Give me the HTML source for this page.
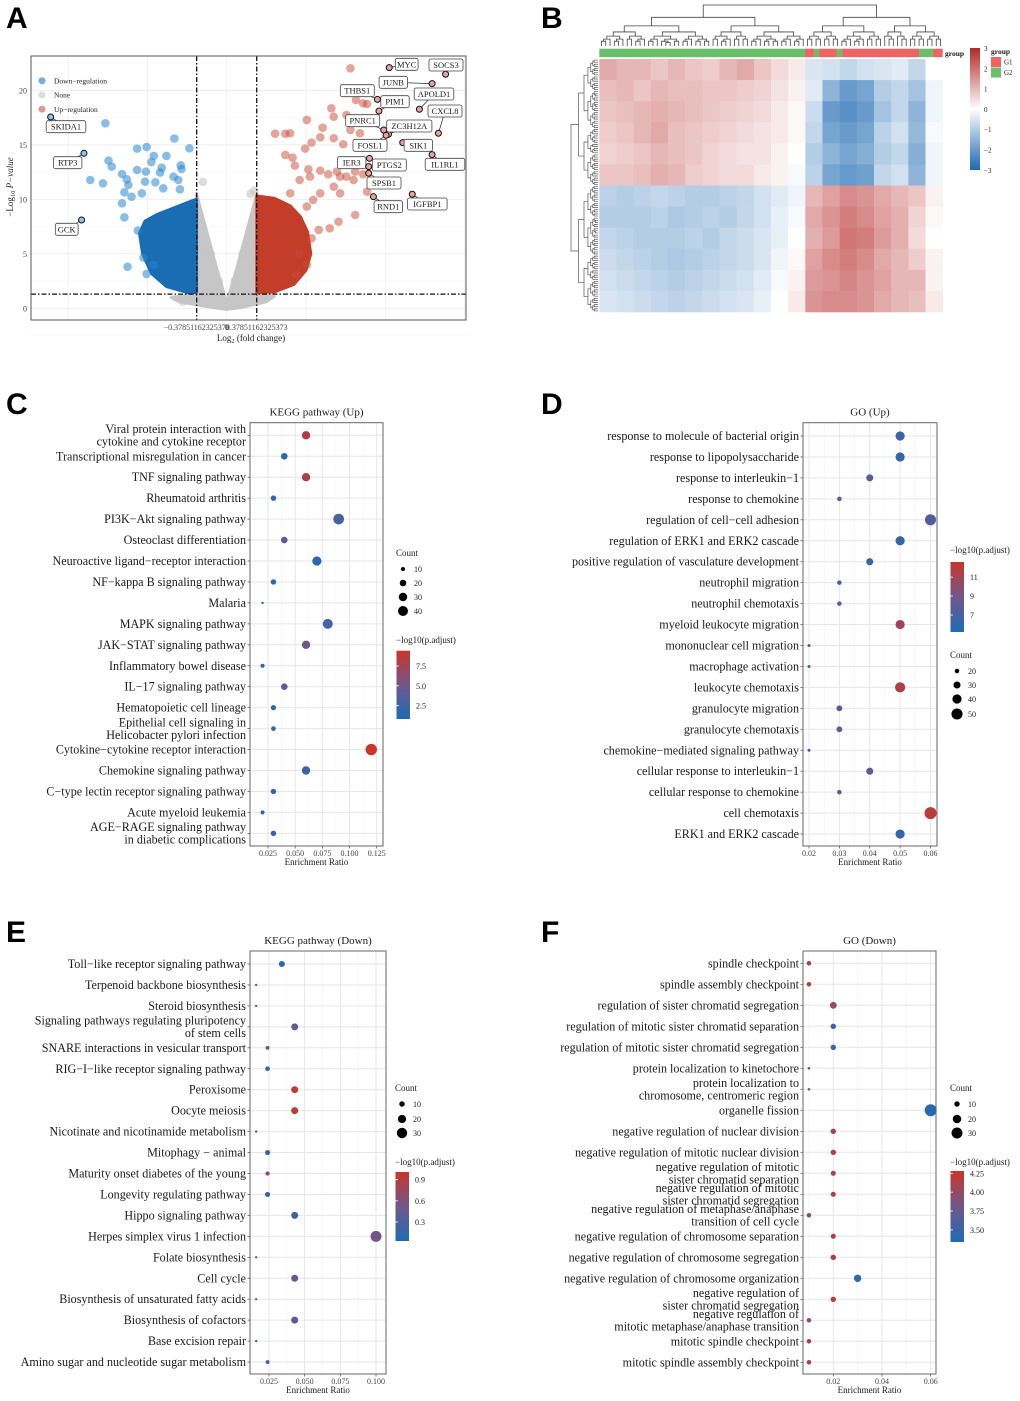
<!DOCTYPE html>
<html><head><meta charset="utf-8"><style>
html,body{margin:0;padding:0;background:#fff;}
svg{display:block;font-family:"Liberation Serif",serif;}
.pl{font-family:"Liberation Sans",sans-serif;font-weight:bold;font-size:30px;}
</style></head><body>
<svg id="root" xmlns="http://www.w3.org/2000/svg" width="1020" height="1401" viewBox="0 0 1020 1401">
<text class="pl" x="6" y="28">A</text>
<text class="pl" x="541" y="28">B</text>
<text class="pl" x="6" y="414">C</text>
<text class="pl" x="541" y="414">D</text>
<text class="pl" x="6" y="942">E</text>
<text class="pl" x="541" y="942">F</text>
</svg>
<script>
// ---------- Volcano data (log2FC, -log10 p) ----------
const downFC=[-1.53,-1.49,-1.45,-1.72,-1.56,-1.32,-1.26,-1.24,-1.29,-1.20,-1.32,-1.29,-1.13,-1.01,-0.66,-0.47,-0.76,-0.92,-0.95,-0.82,-0.58,-0.57,-0.67,-0.84,-1.02,-1.13,-1.03,-0.90,-0.80,-0.61,-0.59,-1.07,-1.25,-1.01,-0.92,-1.05,-1.12];
const downP=[16.97,13.55,13.0,11.77,11.47,12.32,11.83,11.31,10.64,10.24,9.63,8.35,14.65,14.80,15.57,14.68,13.98,13.98,13.42,12.9,13.12,12.78,12.08,12.45,12.54,12.69,11.62,11.56,11.01,11.77,10.92,10.55,3.82,3.15,3.98,4.65,7.13];
const upFC=[1.56,1.63,1.72,1.77,1.32,1.01,1.35,1.51,1.56,1.68,1.21,0.61,0.74,0.80,1.18,1.07,1.35,0.99,1.47,0.74,0.83,0.86,1.03,1.18,1.28,1.39,1.43,1.51,1.60,1.62,1.72,1.77,1.62,1.41,1.30,1.16,1.07,1.01,0.88,0.92,1.18,1.35,1.43,1.09,1.01,0.80,0.92,1.05];
const upP=[22.02,19.11,18.81,18.75,18.35,17.28,17.58,17.74,16.36,16.06,16.57,16.02,16.02,16.06,15.69,15.2,15.6,14.65,15.05,14.07,13.82,13.09,12.75,12.63,12.29,12.54,12.08,12.08,11.77,12.54,12.29,10.7,8.56,7.95,7.34,7.19,6.42,3.98,3.06,5.05,10.55,11.16,10.55,9.94,9.33,10.55,11.77,12.08];
const grayFC=[-0.3,-0.2,-0.1,0.1,0.2,0.3,-0.55,0.35];
const grayP=[11.6,5,2.5,2.5,5,10.5,0.6,10.8];
const denseDown=[[-0.38,10.0],[-0.46,9.8],[-0.67,9.2],[-0.88,8.6],[-1.03,8.0],[-1.1,6.9],[-1.06,5.0],[-0.95,3.2],[-0.76,2.0],[-0.5,1.45],[-0.38,1.45]];
const denseUp=[[0.38,10.3],[0.6,10.1],[0.8,9.4],[0.93,8.4],[1.02,7],[1.06,5],[1.0,3.5],[0.85,2.2],[0.6,1.5],[0.38,1.45]];
const denseNone=[[-0.38,10.5],[-0.25,7],[-0.12,3.5],[0,0.5],[0.12,3.5],[0.25,7],[0.38,10.5],[0.38,1.3],[0.6,1.1],[0.5,0.6],[0.2,0.1],[0,-0.1],[-0.2,0.1],[-0.6,0.6],[-0.7,1.0],[-0.38,1.3]];
const geneNames=["MYC","SOCS3","JUNB","APOLD1","CXCL8","THBS1","PIM1","PNRC1","ZC3H12A","FOSL1","SIK1","IL1RL1","IER3","PTGS2","SPSB1","RND1","IGFBP1","SKIDA1","RTP3","GCK"];
const geneFC=[2.05,2.76,2.59,2.43,2.67,1.90,1.92,1.98,2.04,2.01,2.22,2.59,1.80,1.79,1.79,1.85,2.34,-2.22,-1.80,-1.83];
const geneP=[22.08,21.47,20.61,18.26,16.06,19.17,18.1,16.36,15.96,15.87,15.2,14.1,13.76,13.0,12.39,10.24,10.46,17.55,14.22,8.10];
const geneLabX=[406.7,446,393.3,434,445,357.3,395,362.7,409.3,370,418.3,445,351.7,389.3,384,388.3,427.3,66,67.7,66.7];
const geneLabY=[64.3,65,82.3,94,111,90.7,101.7,120.7,126,145.3,145.3,164.3,162.7,165,183,206.7,204,126.7,162.7,229.3];
const yTicksA=[0,5,10,15,20];
const fcCut=0.37851162325373, pCut=1.3;

// ---------- Heatmap (coarse block estimates, z-scores) ----------
const hmRows=[
[1.2,1,1,0.8,1,0.8,0.7,1,1.2,0.8,0.5,0.3,-0.5,-0.6,-0.8,-0.6,-0.5,-0.4,-0.8,0],
[0.9,1,0.8,1,0.9,0.9,0.8,0.8,0.7,0.6,0.4,0.2,-0.4,-1.5,-2,-1.8,-1,-0.8,-1.2,-0.2],
[0.8,0.9,1,1.1,1,0.9,0.8,0.7,0.6,0.5,0.3,0.1,-0.7,-2,-2.2,-2,-1.2,-0.8,-1.5,-0.2],
[0.7,0.8,1,1.2,0.9,0.8,0.7,0.6,0.5,0.4,0.3,0.1,-0.8,-1.8,-2,-1.8,-0.9,-0.6,-1.4,-0.1],
[0.6,0.7,0.8,1,0.9,0.8,0.6,0.5,0.4,0.4,0.2,0,-1,-1.5,-1.8,-1.6,-1,-0.8,-1.6,-0.2],
[0.8,0.8,0.9,1.1,1,0.7,0.6,0.5,0.5,0.3,0.2,-0.1,-0.9,-1.8,-2,-1.9,-0.8,-0.6,-1.5,-0.2],
[-0.9,-1,-0.9,-0.8,-0.9,-1,-1,-0.9,-0.8,-0.6,-0.4,-0.2,1,1.3,1.6,1.5,1.2,1,0.8,0.2],
[-1,-1,-1,-0.9,-1.1,-1,-0.9,-1,-0.8,-0.6,-0.3,-0.1,1.2,1.5,1.8,1.6,1.3,1.1,0.6,0.1],
[-0.8,-0.9,-1,-1,-1,-0.9,-1,-0.8,-0.7,-0.5,-0.3,0,1.1,1.4,1.9,1.8,1.4,1.1,0.5,0],
[-0.7,-0.8,-0.9,-1,-1.1,-1,-0.9,-0.8,-0.7,-0.5,-0.2,0.1,1.3,1.6,1.8,1.6,1.2,1,0.7,0.2],
[-0.6,-0.7,-0.8,-0.9,-1,-0.9,-0.8,-0.7,-0.6,-0.4,-0.1,0.2,1.4,1.5,1.7,1.5,1.3,1,1,0.2],
[-0.5,-0.6,-0.7,-0.8,-0.9,-0.8,-0.7,-0.6,-0.5,-0.3,0,0.3,1.5,1.6,1.6,1.5,1.2,1,0.9,0.3]];
const groupSegs=["G2","G1","G2","G1","G2","G1","G2","G1"];
const groupFrac=[0.599,0.026,0.015,0.052,0.015,0.224,0.041,0.028];
const hmTicks=[3,2,1,0,-1,-2,-3];

// ---------- Dot plot data ----------
const cLabels=["Viral protein interaction with\ncytokine and cytokine receptor","Transcriptional misregulation in cancer","TNF signaling pathway","Rheumatoid arthritis","PI3K\u2212Akt signaling pathway","Osteoclast differentiation","Neuroactive ligand\u2212receptor interaction","NF\u2212kappa B signaling pathway","Malaria","MAPK signaling pathway","JAK\u2212STAT signaling pathway","Inflammatory bowel disease","IL\u221217 signaling pathway","Hematopoietic cell lineage","Epithelial cell signaling in\nHelicobacter pylori infection","Cytokine\u2212cytokine receptor interaction","Chemokine signaling pathway","C\u2212type lectin receptor signaling pathway","Acute myeloid leukemia","AGE\u2212RAGE signaling pathway\nin diabetic complications"];
const cRatio=[0.06,0.04,0.06,0.03,0.09,0.04,0.07,0.03,0.02,0.08,0.06,0.02,0.04,0.03,0.03,0.12,0.06,0.03,0.02,0.03];
const cCount=[30,20,30,15,45,20,35,15,5,40,30,10,20,14,12,50,30,15,10,15];
const cP=[8.5,1,8,1.5,3,3.5,1.5,1.5,1,3,5,1,4,1.5,1.5,9.5,2.5,1.5,1.2,1.5];
const cXT=[0.025,0.05,0.075,0.1,0.125], cXL=["0.025","0.050","0.075","0.100","0.125"];

const dLabels=["response to molecule of bacterial origin","response to lipopolysaccharide","response to interleukin\u22121","response to chemokine","regulation of cell\u2212cell adhesion","regulation of ERK1 and ERK2 cascade","positive regulation of vasculature development","neutrophil migration","neutrophil chemotaxis","myeloid leukocyte migration","mononuclear cell migration","macrophage activation","leukocyte chemotaxis","granulocyte migration","granulocyte chemotaxis","chemokine\u2212mediated signaling pathway","cellular response to interleukin\u22121","cellular response to chemokine","cell chemotaxis","ERK1 and ERK2 cascade"];
const dRatio=[0.05,0.05,0.04,0.03,0.06,0.05,0.04,0.03,0.03,0.05,0.02,0.02,0.05,0.03,0.03,0.02,0.04,0.03,0.06,0.05];
const dCount=[40,40,30,20,50,40,30,20,20,40,15,15,45,25,25,15,30,20,55,40];
const dP=[6.5,6.3,8,8.5,7.5,6.3,6.5,7,8,11,6.5,6.2,11.5,7.5,9,7.5,7.8,8.5,12,6.2];
const dXT=[0.02,0.03,0.04,0.05,0.06], dXL=["0.02","0.03","0.04","0.05","0.06"];

const eLabels=["Toll\u2212like receptor signaling pathway","Terpenoid backbone biosynthesis","Steroid biosynthesis","Signaling pathways regulating pluripotency\nof stem cells","SNARE interactions in vesicular transport","RIG\u2212I\u2212like receptor signaling pathway","Peroxisome","Oocyte meiosis","Nicotinate and nicotinamide metabolism","Mitophagy \u2212 animal","Maturity onset diabetes of the young","Longevity regulating pathway","Hippo signaling pathway","Herpes simplex virus 1 infection","Folate biosynthesis","Cell cycle","Biosynthesis of unsaturated fatty acids","Biosynthesis of cofactors","Base excision repair","Amino sugar and nucleotide sugar metabolism"];
const eRatio=[0.034,0.016,0.016,0.043,0.024,0.024,0.043,0.043,0.016,0.024,0.024,0.024,0.043,0.1,0.016,0.043,0.016,0.043,0.016,0.024];
const eCount=[12,3,3,15,6,8,15,15,3,9,7,9,15,33,3,15,3,15,3,6];
const eP=[0.1,0.6,0.55,0.45,0.6,0.15,0.95,0.95,0.2,0.2,0.7,0.2,0.2,0.55,0.4,0.5,0.4,0.4,0.2,0.2];
const eXT=[0.025,0.05,0.075,0.1], eXL=["0.025","0.050","0.075","0.100"];

const fLabels=["spindle checkpoint","spindle assembly checkpoint","regulation of sister chromatid segregation","regulation of mitotic sister chromatid separation","regulation of mitotic sister chromatid segregation","protein localization to kinetochore","protein localization to\nchromosome, centromeric region","organelle fission","negative regulation of nuclear division","negative regulation of mitotic nuclear division","negative regulation of mitotic\nsister chromatid separation","negative regulation of mitotic\nsister chromatid segregation","negative regulation of metaphase/anaphase\ntransition of cell cycle","negative regulation of chromosome separation","negative regulation of chromosome segregation","negative regulation of chromosome organization","negative regulation of\nsister chromatid segregation","negative regulation of\nmitotic metaphase/anaphase transition","mitotic spindle checkpoint","mitotic spindle assembly checkpoint"];
const fRatio=[0.01,0.01,0.02,0.02,0.02,0.01,0.01,0.06,0.02,0.02,0.02,0.02,0.01,0.02,0.02,0.03,0.02,0.01,0.01,0.01];
const fCount=[8,8,14,10,10,4,4,35,10,10,9,9,8,9,10,16,10,8,8,8];
const fP=[4.15,4.15,4.0,3.45,3.45,4.25,3.9,3.4,4.1,4.2,4.15,4.2,3.85,4.15,4.2,3.45,4.2,3.9,4.15,4.15];
const fXT=[0.02,0.04,0.06], fXL=["0.02","0.04","0.06"];

// ---------- helpers ----------
const NS="http://www.w3.org/2000/svg";
const root=document.getElementById('root');
function mk(tag,attrs,parent){const e=document.createElementNS(NS,tag);for(const k in attrs)e.setAttribute(k,attrs[k]);(parent||root).appendChild(e);return e;}
function grp(name,parent){const g=mk('g',{},parent);


return g;}
function txt(x,y,s,size,anchor,name,parent,extra){const t=mk('text',Object.assign({x:x,y:y,'font-size':size,'text-anchor':anchor||'start',fill:'#1a1a1a'},extra||{}),parent);t.textContent=s;


return t;}
const BLUE=[30,108,180],MID=[112,86,140],RED=[200,54,42];
function lerp(a,b,t){return a.map((v,i)=>Math.round(v+(b[i]-v)*t));}
function col(t){t=Math.max(0,Math.min(1,t));const c=t<0.5?lerp(BLUE,MID,t*2):lerp(MID,RED,(t-0.5)*2);return `rgb(${c})`;}
function hmCol(v){const t=Math.max(-3,Math.min(3,v))/3;const c=t<0?lerp([255,255,255],[28,105,178],-t):lerp([255,255,255],[180,40,38],t);return `rgb(${c})`;}

// ---------- Panel A: volcano ----------
(function(){
const g=grp('volcano-plot');
const X0=31,X1=466,Y0=56,Y1=320;
const xs=v=>226.7+v*79.3, ys=v=>308.3-v*10.9;
const frame=mk('rect',{x:X0,y:Y0,width:X1-X0,height:Y1-Y0,fill:'#fff',stroke:'none'},g);


const grid=grp('volcano-grid',g);
for(const v of [-2,-1,0,1,2,3]){const l=mk('line',{x1:xs(v),x2:xs(v),y1:Y0,y2:Y1,stroke:'#eeeeee','stroke-width':0.8},grid);

}
for(const v of [-2.5,2.5,7.5,12.5,17.5,22.5]){const l=mk('line',{x1:X0,x2:X1,y1:ys(v),y2:ys(v),stroke:'#f4f4f4','stroke-width':0.6},grid);

}
for(const v of yTicksA){const l=mk('line',{x1:X0,x2:X1,y1:ys(v),y2:ys(v),stroke:'#ebebeb','stroke-width':0.9},grid);


txt(X0-4,ys(v)+3,String(v),8,'end','y-tick-label',g,{fill:'#444'});}
function poly(pts,fill,name){const p=mk('polygon',{points:pts.map(q=>xs(q[0])+','+ys(q[1])).join(' '),fill:fill,stroke:fill,'stroke-width':3,'stroke-linejoin':'round'},g);

}
poly(denseNone,'#c6c6c6','none-dense-cloud');
poly(denseDown,'#1a6cb3','down-dense-cloud');
poly(denseUp,'#c33d28','up-dense-cloud');
grayFC.forEach((v,i)=>{const c=mk('circle',{cx:xs(v),cy:ys(grayP[i]),r:4.3,fill:'#c4c4c4','fill-opacity':0.6},g);

});
downFC.forEach((v,i)=>{const c=mk('circle',{cx:xs(v),cy:ys(downP[i]),r:4.3,fill:'#2a86cf','fill-opacity':0.55},g);

});
upFC.forEach((v,i)=>{const c=mk('circle',{cx:xs(v),cy:ys(upP[i]),r:4.3,fill:'#cc4a35','fill-opacity':0.5},g);

});
for(const v of [-fcCut,fcCut]){const l=mk('line',{x1:xs(v),x2:xs(v),y1:Y0,y2:Y1,stroke:'#111','stroke-width':1.3,'stroke-dasharray':'5,2,1.5,2'},g);

}
const hl=mk('line',{x1:X0,x2:X1,y1:ys(pCut),y2:ys(pCut),stroke:'#111','stroke-width':1.3,'stroke-dasharray':'5,2,1.5,2'},g);


geneNames.forEach((n,i)=>{const px=xs(geneFC[i]),py=ys(geneP[i]);const lx=geneLabX[i],ly=geneLabY[i];
const ln=mk('line',{x1:px,y1:py,x2:lx,y2:ly,stroke:'#222','stroke-width':0.7},g);


const c=mk('circle',{cx:px,cy:py,r:3,fill:geneFC[i]<0?'#8fc3ea':'#eba399',stroke:'#111','stroke-width':1},g);


const w=n.length*5.6+6;
const r=mk('rect',{x:lx-w/2,y:ly-6,width:w,height:12,rx:2,fill:'#fff',stroke:'#444','stroke-width':0.8},g);


txt(lx,ly+3,n,8.5,'middle','gene-label',g);});
const bd=mk('rect',{x:X0,y:Y0,width:X1-X0,height:Y1-Y0,fill:'none',stroke:'#555','stroke-width':1},g);


const lg=grp('volcano-legend',g);
[['#6fb0e0','Down\u2212regulation'],['#dcdcdc','None'],['#e39a8e','Up\u2212regulation']].forEach((d,i)=>{
const c=mk('circle',{cx:42,cy:80.7+i*14.2,r:3.5,fill:d[0]},lg);


txt(54,83.5+i*14.2,d[1],7.5,'start','legend-entry',lg);});
txt(xs(-fcCut),330,'\u22120.37851162325373',8,'middle','x-tick-label',g,{fill:'#444'});
txt(xs(0),330,'0',8,'middle','x-tick-label',g,{fill:'#444'});
txt(xs(fcCut),330,'0.37851162325373',8,'middle','x-tick-label',g,{fill:'#444'});
const xt=txt(251,341,'',9,'middle','x-axis-title',g);
xt.innerHTML='Log<tspan font-size="6.5" dy="2">2</tspan><tspan dy="-2"> (fold change)</tspan>';
const yt=txt(0,0,'',9,'middle','y-axis-title',g,{transform:'translate(13,187) rotate(-90)'});
yt.innerHTML='\u2212Log<tspan font-size="6.5" dy="2">10</tspan><tspan dy="-2" font-style="italic"> P\u2212value</tspan>';
})();

// ---------- Panel B: heatmap ----------
(function(){
const g=grp('heatmap');
const X0=599.3,X1=942.7,Y0=59,Y1=312;
const nC=hmRows[0].length,nR=hmRows.length,cw=(X1-X0)/nC,rh=(Y1-Y0)/nR;
hmRows.forEach((row,r)=>row.forEach((v,c)=>{const e=mk('rect',{x:X0+c*cw,y:Y0+r*rh,width:cw+0.3,height:rh+0.3,fill:hmCol(v)},g);

}));
let x=X0;groupSegs.forEach((s,i)=>{const w=groupFrac[i]*(X1-X0);const e=mk('rect',{x:x,y:48.7,width:w,height:8.5,fill:s==='G1'?'#ee6464':'#6bbf6b'},g);

x+=w;});
txt(945,56,'group',7.5,'start','annotation-title',g,{'font-weight':'bold'});
let pt='';
function dT(x0,x1,n,h,d){if(n<=1||h<2.5)return{x:(x0+x1)/2,y:46};const f=d===0?0.6:(d%2?0.55:0.42);const n1=Math.max(1,Math.round(n*f));const xm=x0+(x1-x0)*n1/n;const a=dT(x0,xm,n1,h*0.7,d+1),b=dT(xm,x1,n-n1,h*0.7,d+1);const y=46-h;pt+=`M${a.x},${a.y}V${y}H${b.x}V${b.y}`;return{x:(a.x+b.x)/2,y:y};}
dT(X0,X1,80,41,0);
const p1=mk('path',{d:pt,fill:'none',stroke:'#444','stroke-width':0.8},g);


let pl='';
function dL(y0,y1,n,h,d){if(n<=1||h<1.5)return{y:(y0+y1)/2,x:598};const f=d===0?0.5:(d%2?0.55:0.45);const n1=Math.max(1,Math.round(n*f));const ym=y0+(y1-y0)*n1/n;const a=dL(y0,ym,n1,h*0.72,d+1),b=dL(ym,y1,n-n1,h*0.72,d+1);const xx=598-h;pl+=`M${a.x},${a.y}H${xx}V${b.y}H${b.x}`;return{y:(a.y+b.y)/2,x:xx};}
dL(Y0,Y1,120,27,0);
const p2=mk('path',{d:pl,fill:'none',stroke:'#555','stroke-width':0.7},g);


const def=mk('defs',{},g);const lgd=mk('linearGradient',{id:'hmg',x1:0,y1:0,x2:0,y2:1},def);
hmTicks.forEach((v,i)=>{mk('stop',{offset:(i/(hmTicks.length-1)),'stop-color':hmCol(v)},lgd);});
const cb=mk('rect',{x:970,y:48,width:10,height:122,fill:'url(#hmg)'},g);


hmTicks.forEach((v,i)=>{txt(984,51+i*20.3,v<0?'\u2212'+(-v):String(v),7,'start','colorbar-tick-label',g);});
txt(991,54,'group',7.5,'start','group-legend-title',g,{'font-weight':'bold'});
[['G1','#ee6464'],['G2','#6bbf6b']].forEach((d,i)=>{const r=mk('rect',{x:991,y:57+i*10.5,width:10,height:10,fill:d[1]},g);


txt(1004,64.5+i*10.5,d[0],7,'start','group-legend-entry',g);});
})();

// ---------- Dot plots ----------
function dotPlot(o){
const g=grp(o.name);
const {X0,X1,Y0,Y1}=o;
const xs=v=>o.px0+(v-o.v0)*(o.px1-o.px0)/(o.v1-o.v0);
const ry=i=>o.rowTop+i*o.rowStep;
const bg=mk('rect',{x:X0,y:Y0,width:X1-X0,height:Y1-Y0,fill:'#fff'},g);


const step=o.xt[1]-o.xt[0];
for(let k=-1;k<o.xt.length;k++){const v=o.xt[0]+(k+0.5)*step;const x=xs(v);if(x>X0&&x<X1){const l=mk('line',{x1:x,x2:x,y1:Y0,y2:Y1,stroke:'#f3f3f3','stroke-width':0.7},g);

}}
o.xt.forEach((v,i)=>{const l=mk('line',{x1:xs(v),x2:xs(v),y1:Y0,y2:Y1,stroke:'#e6e6e6','stroke-width':1},g);


const tk=mk('line',{x1:xs(v),x2:xs(v),y1:Y1,y2:Y1+2.5,stroke:'#444','stroke-width':0.7},g);


txt(xs(v),Y1+10,o.xl[i],8,'middle','x-tick-label',g,{fill:'#444'});});
o.labels.forEach((s,i)=>{const y=ry(i);const l=mk('line',{x1:X0,x2:X1,y1:y,y2:y,stroke:'#e6e6e6','stroke-width':1},g);


const tk=mk('line',{x1:X0-2.5,x2:X0,y1:y,y2:y,stroke:'#444','stroke-width':0.7},g);


const lines=s.split('\n');
lines.forEach((ln,j)=>{txt(X0-4,y+4+(j-(lines.length-1)/2)*12.5,ln,12.1,'end','category-label',g);});});
const rf=c=>Math.max(1,o.sa*Math.sqrt(c)+o.sb);
const cf=v=>col((v-o.cmin)/(o.cmax-o.cmin));
o.ratio.forEach((v,i)=>{const c=mk('circle',{cx:xs(v),cy:ry(i),r:rf(o.count[i]),fill:cf(o.p[i])},g);

});
const bd=mk('rect',{x:X0,y:Y0,width:X1-X0,height:Y1-Y0,fill:'none',stroke:'#666','stroke-width':1},g);


txt((X0+X1)/2,Y0-7,o.title,11,'middle','plot-title',g);
txt((X0+X1)/2,Y1+19,'Enrichment Ratio',9,'middle','x-axis-title',g);
const L=o.leg;
txt(L.cx,L.cy,'Count',9,'start','size-legend-title',g);
L.counts.forEach((c,i)=>{const d=mk('circle',{cx:L.cx+7,cy:L.cys[i],r:rf(c),fill:'#000'},g);


txt(L.cx+18,L.cys[i]+3,String(c),8,'start','size-legend-label',g);});
txt(L.gx,L.gy,'\u2212log10(p.adjust)',9,'start','color-legend-title',g);
const def=mk('defs',{},g);const lgd=mk('linearGradient',{id:o.name+'-grad',x1:0,y1:0,x2:0,y2:1},def);
for(let k=0;k<=10;k++){mk('stop',{offset:k/10,'stop-color':col(1-k/10)},lgd);}
const cb=mk('rect',{x:L.gx+0.5,y:L.by0,width:13.5,height:L.by1-L.by0,fill:`url(#${o.name}-grad)`},g);


L.cticks.forEach((v,i)=>{const y=L.by1-(v-o.cmin)/(o.cmax-o.cmin)*(L.by1-L.by0);
const t1=mk('line',{x1:L.gx+0.5,x2:L.gx+3,y1:y,y2:y,stroke:'#fff','stroke-width':0.8},g);


txt(L.gx+20,y+3,L.clabels[i],8,'start','colorbar-tick-label',g);});
}
dotPlot({name:'kegg-up-dotplot',title:'KEGG pathway (Up)',X0:250,X1:383,Y0:422.7,Y1:846,v0:0.025,px0:268,v1:0.125,px1:376.7,rowTop:435.3,rowStep:20.95,
labels:cLabels,ratio:cRatio,count:cCount,p:cP,xt:cXT,xl:cXL,cmin:0.82,cmax:9.43,sa:0.93,sb:-0.88,
leg:{cx:396,cy:556,counts:[10,20,30,40],cys:[569,583,597,611],gx:396,gy:643,by0:650.7,by1:719,cticks:[2.5,5,7.5],clabels:['2.5','5.0','7.5']}});
dotPlot({name:'go-up-dotplot',title:'GO (Up)',X0:803,X1:937,Y0:422.7,Y1:846,v0:0.02,px0:809,v1:0.06,px1:930.5,rowTop:436,rowStep:20.95,
labels:dLabels,ratio:dRatio,count:dCount,p:dP,xt:dXT,xl:dXL,cmin:5.2,cmax:12.6,sa:1.27,sb:-3.42,
leg:{cx:950,cy:658,counts:[20,30,40,50],cys:[671,685,699,714],gx:950,gy:553,by0:562,by1:632,cticks:[7,9,11],clabels:['7','9','11']}});
dotPlot({name:'kegg-down-dotplot',title:'KEGG pathway (Down)',X0:250,X1:386,Y0:951,Y1:1374,v0:0.025,px0:269,v1:0.1,px1:376,rowTop:964,rowStep:20.95,
labels:eLabels,ratio:eRatio,count:eCount,p:eP,xt:eXT,xl:eXL,cmin:0.03,cmax:1.01,sa:1.07,sb:-0.65,
leg:{cx:395,cy:1091,counts:[10,20,30],cys:[1104,1119,1133],gx:395,gy:1165,by0:1172,by1:1241,cticks:[0.3,0.6,0.9],clabels:['0.3','0.6','0.9']}});
dotPlot({name:'go-down-dotplot',title:'GO (Down)',X0:803,X1:936,Y0:951,Y1:1374,v0:0.02,px0:833.3,v1:0.06,px1:930.7,rowTop:963.3,rowStep:21,
labels:fLabels,ratio:fRatio,count:fCount,p:fP,xt:fXT,xl:fXL,cmin:3.34,cmax:4.28,sa:1.2,sb:-1.1,
leg:{cx:950,cy:1091,counts:[10,20,30],cys:[1104,1119,1133],gx:950,gy:1165,by0:1171,by1:1242,cticks:[3.5,3.75,4.0,4.25],clabels:['3.50','3.75','4.00','4.25']}});
</script>
</body></html>
